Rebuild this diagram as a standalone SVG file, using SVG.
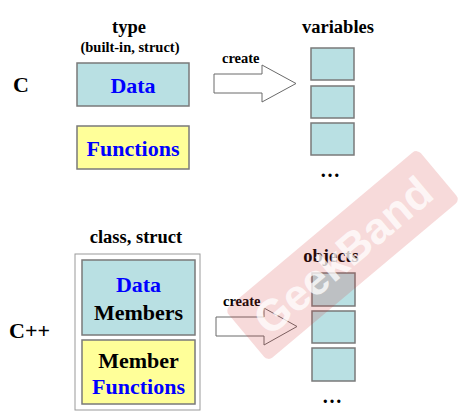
<svg xmlns="http://www.w3.org/2000/svg" width="468" height="419" viewBox="0 0 468 419">
<style>
  text { font-family: "Liberation Serif", "Times New Roman", serif; font-weight: bold; }
  .big { font-size: 22px; }
  .hd { font-size: 18.5px; }
  .sm { font-size: 14.5px; }
  .blue { fill: #0000ff; }
  .blk { fill: #000000; }
  .cyan { fill: #b9e0e3; stroke: #7a7a7a; stroke-width: 1.5; }
  .yel { fill: #ffff99; stroke: #7a7a7a; stroke-width: 1.5; }
  .arrow { fill: #ffffff; stroke: #6a6a6a; stroke-width: 1; }
  .mid { text-anchor: middle; }
</style>
<rect width="468" height="419" fill="#ffffff"/>

<g id="label-c"><text class="big blk" x="13" y="92">C</text></g>
<g id="label-cpp"><text class="big blk" x="9" y="338">C++</text></g>

<g id="c-type">
  <text class="hd mid" x="129" y="33">type</text>
  <text class="sm mid" x="130" y="52">(built-in, struct)</text>
</g>
<g id="c-data">
  <rect class="cyan" x="77" y="63" width="112" height="43"/>
  <text class="big blue mid" x="133" y="93">Data</text>
</g>
<g id="c-functions">
  <rect class="yel" x="77" y="126" width="112" height="43"/>
  <text class="big blue mid" x="133" y="156">Functions</text>
</g>

<g id="variables">
  <text class="hd mid" x="338" y="33">variables</text>
  <rect class="cyan" x="311" y="48" width="43" height="32"/>
  <rect class="cyan" x="311" y="86" width="43" height="32"/>
  <rect class="cyan" x="311" y="123" width="43" height="32"/>
  <text class="mid" x="330" y="177" font-size="20">…</text>
</g>

<g id="cpp-class">
  <text class="hd mid" x="136" y="243">class, struct</text>
  <rect x="75" y="254" width="125" height="156" fill="#ffffff" stroke="#9a9a9a" stroke-width="1"/>
</g>
<g id="cpp-data-members">
  <rect class="cyan" x="82" y="260" width="113" height="75"/>
  <text class="big blue mid" x="138.5" y="292">Data</text>
  <text class="big blk mid" x="138.5" y="320">Members</text>
</g>
<g id="cpp-member-functions">
  <rect class="yel" x="82" y="340" width="113" height="64"/>
  <text class="big blk mid" x="138.5" y="368">Member</text>
  <text class="big blue mid" x="138.5" y="394">Functions</text>
</g>

<g id="objects">
  <text class="hd mid" x="331" y="262">objects</text>
  <rect class="cyan" x="312" y="273" width="43" height="33"/>
  <rect class="cyan" x="312" y="311" width="43" height="32"/>
  <rect class="cyan" x="312" y="348" width="43" height="33"/>
  <text class="mid" x="332" y="403" font-size="20">…</text>
</g>

<g id="connectors">
  <polygon class="arrow" points="214,74 262,74 262,65 296,83.5 262,102 262,93 214,93"/>
  <text class="sm" x="222" y="63">create</text>
  <polygon class="arrow" points="216,317 264,317 264,308 297,326.5 264,345 264,336 216,336"/>
  <text class="sm" x="223" y="306">create</text>
</g>

<g id="watermark" transform="translate(342.5,255) rotate(-40)">
  <rect x="-125.5" y="-33.5" width="251" height="67" rx="6" fill="#d03030" opacity="0.18"/>
  <text x="0" y="16" text-anchor="middle" style="font-family:'Liberation Sans',Arial,sans-serif;font-weight:bold;font-size:44px" fill="#ffffff" opacity="0.75">GeekBand</text>
</g>
</svg>
